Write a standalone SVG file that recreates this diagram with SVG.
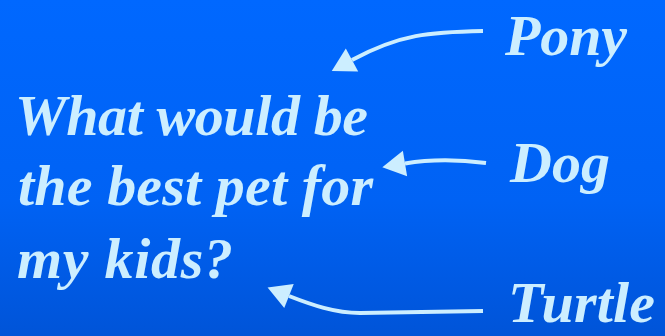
<svg xmlns="http://www.w3.org/2000/svg" width="665" height="336" viewBox="0 0 665 336">
  <defs>
    <linearGradient id="bg" x1="0" y1="0" x2="0" y2="1">
      <stop offset="0" stop-color="#0068ff"/>
      <stop offset="0.6" stop-color="#0062f4"/>
      <stop offset="1" stop-color="#0054d8"/>
    </linearGradient>
    <marker id="ah" markerUnits="userSpaceOnUse" markerWidth="26" markerHeight="28" viewBox="0 -14 26 28" refX="0" refY="0" orient="auto" overflow="visible">
      <path d="M0,-13 L23,0 L0,13Z" fill="#cceeff"/>
    </marker>
    <style>
      .t { font-family: "Liberation Serif", "DejaVu Serif", serif; font-style: italic; font-weight: bold; font-size: 58px; fill: #cceeff; }
      .c { fill: none; stroke: #cceeff; stroke-width: 4; marker-end: url(#ah); }
    </style>
  </defs>
  <rect x="0" y="0" width="665" height="336" fill="url(#bg)"/>
  <g id="question">
    <text class="t" x="15" y="135" textLength="353" lengthAdjust="spacing">What would be</text>
    <text class="t" x="18" y="205" textLength="355" lengthAdjust="spacing">the best pet for</text>
    <text class="t" x="17" y="278" textLength="216" lengthAdjust="spacing">my kids?</text>
  </g>
  <g id="pony">
    <text class="t" x="505" y="55" textLength="122" lengthAdjust="spacing">Pony</text>
  </g>
  <g id="dog">
    <text class="t" x="510" y="182" textLength="100" lengthAdjust="spacing">Dog</text>
  </g>
  <g id="turtle">
    <text class="t" x="508" y="322" textLength="147" lengthAdjust="spacing">Turtle</text>
  </g>
  <g id="connectors">
    <path class="c" d="M483,31 C430,32 400,34 352,60"/>
    <path class="c" d="M486,163 C462,160 432,159 405,163.5"/>
    <path class="c" d="M483,311 L360,313 C335,313 312,305 289,296"/>
  </g>
</svg>
